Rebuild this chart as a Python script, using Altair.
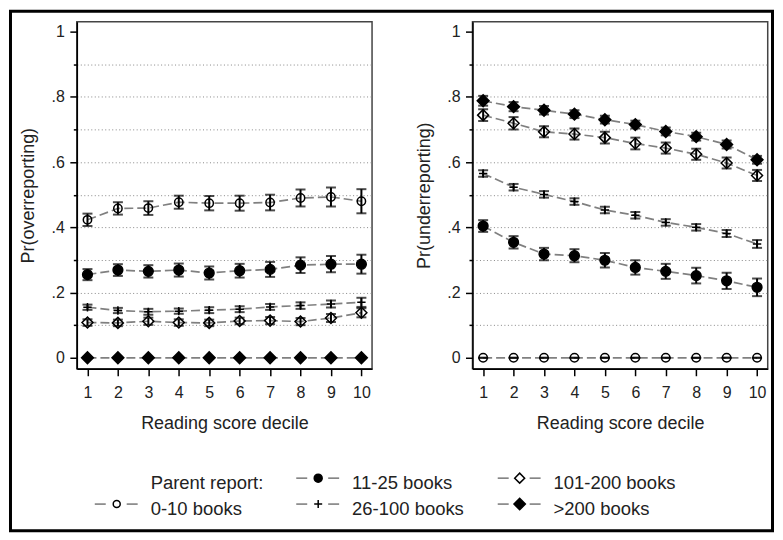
import altair as alt
import pandas as pd

deciles = [1, 2, 3, 4, 5, 6, 7, 8, 9, 10]
series = ["0-10 books", "11-25 books", "26-100 books", "101-200 books", ">200 books"]

# Pr(overreporting): estimate and half-width of CI
over_y = {
    "0-10 books":    [0.423, 0.458, 0.459, 0.477, 0.474, 0.474, 0.476, 0.490, 0.493, 0.480],
    "11-25 books":   [0.255, 0.269, 0.265, 0.269, 0.260, 0.267, 0.271, 0.284, 0.287, 0.287],
    "26-100 books":  [0.155, 0.145, 0.141, 0.143, 0.146, 0.149, 0.156, 0.160, 0.165, 0.170],
    "101-200 books": [0.108, 0.107, 0.112, 0.108, 0.107, 0.113, 0.114, 0.111, 0.122, 0.138],
    ">200 books":    [0, 0, 0, 0, 0, 0, 0, 0, 0, 0],
}
over_e = {
    "0-10 books":    [0.019, 0.019, 0.021, 0.020, 0.022, 0.023, 0.024, 0.026, 0.029, 0.037],
    "11-25 books":   [0.017, 0.018, 0.019, 0.020, 0.020, 0.021, 0.023, 0.024, 0.025, 0.029],
    "26-100 books":  [0.008, 0.008, 0.009, 0.008, 0.009, 0.009, 0.009, 0.010, 0.011, 0.014],
    "101-200 books": [0.010, 0.010, 0.011, 0.010, 0.010, 0.010, 0.011, 0.011, 0.012, 0.014],
    ">200 books":    [0, 0, 0, 0, 0, 0, 0, 0, 0, 0],
}
# Pr(underreporting)
under_y = {
    "0-10 books":    [0, 0, 0, 0, 0, 0, 0, 0, 0, 0],
    "11-25 books":   [0.404, 0.354, 0.318, 0.313, 0.299, 0.277, 0.265, 0.252, 0.236, 0.216],
    "26-100 books":  [0.565, 0.523, 0.501, 0.479, 0.453, 0.437, 0.415, 0.400, 0.381, 0.349],
    "101-200 books": [0.744, 0.719, 0.693, 0.686, 0.675, 0.657, 0.643, 0.624, 0.597, 0.559],
    ">200 books":    [0.788, 0.770, 0.759, 0.747, 0.730, 0.715, 0.694, 0.678, 0.654, 0.607],
}
under_e = {
    "0-10 books":    [0, 0, 0, 0, 0, 0, 0, 0, 0, 0],
    "11-25 books":   [0.018, 0.019, 0.019, 0.020, 0.022, 0.022, 0.023, 0.024, 0.025, 0.027],
    "26-100 books":  [0.010, 0.010, 0.010, 0.010, 0.010, 0.010, 0.010, 0.010, 0.011, 0.012],
    "101-200 books": [0.018, 0.019, 0.017, 0.017, 0.018, 0.018, 0.017, 0.017, 0.017, 0.017],
    ">200 books":    [0.015, 0.014, 0.013, 0.012, 0.012, 0.012, 0.012, 0.012, 0.012, 0.012],
}

legend_labels = ["Parent report:", "0-10 books", "11-25 books", "26-100 books", "101-200 books", ">200 books"]
legend_series = ["", "0-10 books", "11-25 books", "26-100 books", "101-200 books", ">200 books"]
legend_col = [0, 0, 1, 1, 2, 2]
legend_row = [0, 1, 0, 1, 0, 1]

y_ticks = [0, 0.1, 0.2, 0.3, 0.4, 0.5, 0.6, 0.7, 0.8, 0.9, 1.0]

FONT = "Liberation Sans"
TXT = "#222222"

# marker style per series: (shape, filled, plot size, legend size)
STYLE = {
    "0-10 books":    ("circle", False, 70, 49),
    "11-25 books":   ("circle", True, 95, 64),
    "26-100 books":  ("M-1,0L1,0M0,-1L0,1", False, 70, 64),
    "101-200 books": ("diamond", False, 120, 100),
    ">200 books":    ("diamond", True, 140, 130),
}


def make_df(ys, es):
    rows = []
    for s in series:
        for d, v, e in zip(deciles, ys[s], es[s]):
            rows.append({"series": s, "decile": d, "y": v, "lo": v - e, "hi": v + e})
    return pd.DataFrame(rows)


x_scale = alt.Scale(domain=[0.65, 10.35], nice=False, zero=False)
y_scale = alt.Scale(domain=[-0.0336, 1.0306], nice=False, zero=False)

x_axis = alt.Axis(
    title="Reading score decile", values=deciles, format="d",
    tickSize=7, tickWidth=1.5, tickColor="black",
    domainColor="black", domainWidth=1.5,
    labelFont=FONT, labelFontSize=16, labelColor=TXT, labelPadding=9,
    labelFlush=False, labelOverlap=False, grid=False,
    titleFont=FONT, titleFontSize=18, titleColor=TXT, titleFontWeight="normal",
    titleX=148, titleY=55, titleAlign="center", titleBaseline="middle",
)


def y_axis(title):
    return alt.Axis(
        title=title, values=y_ticks,
        labelExpr="datum.value < 0.01 ? '0' : datum.value > 0.99 ? '1' : (round(datum.value*10) % 2 == 0 ? '.' + round(datum.value*10) : '')",
        tickSize={"condition": {"test": "round(datum.value*10) % 2 == 1", "value": 3.5}, "value": 7},
        tickWidth=1.5, tickColor="black",
        domainColor="black", domainWidth=1.5,
        labelFont=FONT, labelFontSize=16, labelColor=TXT, labelPadding=5.5,
        labelOverlap=False, labelFlush=False,
        grid=True,
        gridOpacity={"condition": {"test": "datum.value > 0.05 && datum.value < 0.95", "value": 1}, "value": 0},
        gridDash=[1, 2.5], gridColor="#888888", gridWidth=1,
        titleFont=FONT, titleFontSize=18, titleColor=TXT, titleFontWeight="normal",
        titleX=-48, titleY=174, titleAngle=270, titleAlign="center", titleBaseline="middle",
    )


def point_layers(base, X, Y, legend=False):
    out = []
    for s in series:
        shape, filled, psize, lsize = STYLE[s]
        out.append(
            base.transform_filter(alt.datum.series == s).mark_point(
                shape=shape, filled=filled, size=lsize if legend else psize,
                color="black", stroke="black", strokeWidth=1.5, opacity=1,
            ).encode(x=X, y=Y)
        )
    return out


def data_layers(df, ytitle):
    base = alt.Chart(df)
    X = alt.X("decile:Q", scale=x_scale, axis=x_axis)
    Y = alt.Y("y:Q", scale=y_scale, axis=y_axis(ytitle))
    Ylo = alt.Y("lo:Q", scale=y_scale, axis=y_axis(ytitle))
    lines = base.mark_line(color="#808080", strokeDash=[9, 4], strokeWidth=1.7).encode(
        x=X, y=Y, detail="series:N")
    bars = base.mark_rule(color="black", strokeWidth=2).encode(x=X, y=Ylo, y2="hi:Q")
    cap_lo = base.mark_tick(color="black", orient="horizontal", size=10, thickness=2).encode(
        x=X, y=Ylo)
    cap_hi = base.mark_tick(color="black", orient="horizontal", size=10, thickness=2).encode(
        x=X, y=alt.Y("hi:Q", scale=y_scale, axis=y_axis(ytitle)))
    return [lines, bars, cap_lo, cap_hi] + point_layers(base, X, Y)


df_over = make_df(over_y, over_e)
df_under = make_df(under_y, under_e)

frame = alt.Chart(pd.DataFrame({"k": [0]})).mark_rect(
    filled=False, stroke="black", strokeWidth=3
).encode(x=alt.value(-66.5), x2=alt.value(697.5), y=alt.value(-10.5), y2=alt.value(510.5))

main_left = alt.layer(frame, *data_layers(df_over, "Pr(overreporting)"))

leg_df = pd.DataFrame({"label": legend_labels, "series": legend_series,
                       "col": legend_col, "row": legend_row})
lbase = alt.Chart(leg_df)
LX = alt.X("col:Q", scale=alt.Scale(domain=[-0.19802, 1.26733], nice=False, zero=False), axis=None)
LY = alt.Y("row:Q", scale=alt.Scale(domain=[-17.6038, -4.2192], nice=False, zero=False, reverse=True), axis=None)
l_text = lbase.mark_text(align="left", baseline="middle", dx=34, dy=5, font=FONT,
                         fontSize=18.5, color=TXT).encode(x=LX, y=LY, text="label:N")
sym = lbase.transform_filter("datum.series != ''")
l_dash1 = sym.mark_rule(color="#808080", strokeWidth=1.6, xOffset=-22, x2Offset=-11).encode(
    x=LX, x2="col:Q", y=LY)
l_dash2 = sym.mark_rule(color="#808080", strokeWidth=1.6, xOffset=10, x2Offset=21).encode(
    x=LX, x2="col:Q", y=LY)
legend_layer = alt.layer(l_dash1, l_dash2, *point_layers(sym, LX, LY, legend=True), l_text)

left = alt.layer(main_left, legend_layer).resolve_scale(
    x="independent", y="independent").properties(width=296, height=348)
right = alt.layer(*data_layers(df_under, "Pr(underreporting)")).properties(width=296, height=348)

chart = alt.hconcat(left, right, spacing=100.7, bounds="flush").properties(
    padding=0, background="white"
).configure_view(stroke="#444444", strokeWidth=1.5)

chart.save("out.html", embed_options={"renderer": "svg", "actions": False})
